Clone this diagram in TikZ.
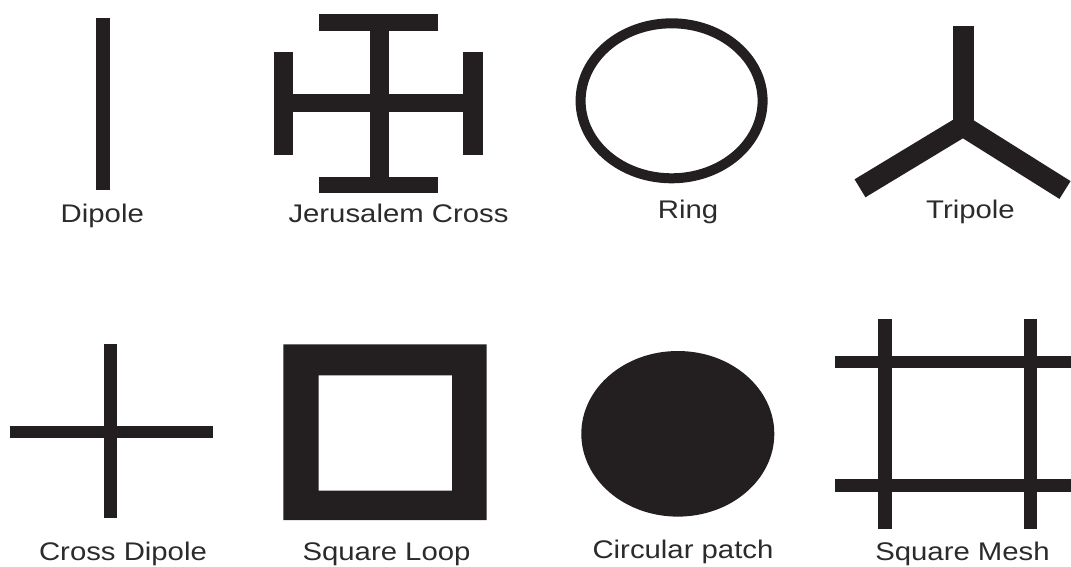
\documentclass[tikz,border=0pt]{standalone}
\usepackage{fontspec}
\setmainfont{Liberation Sans}
\definecolor{ink}{HTML}{231F20}
\definecolor{txt}{HTML}{2B2B2B}
\begin{document}
\begin{tikzpicture}[x=1pt,y=-1pt,
  lbl/.style={anchor=base,inner sep=0pt,text=txt,xscale=1.15,
    font=\fontsize{25.5}{30}\selectfont},
  metal/.style={fill=ink}]
\useasboundingbox (0,0) rectangle (1071,566);
% Dipole
\fill[metal] (96,17.5) rectangle (109.5,190);
\node[lbl] (ldipole) at (102.3,222.7) {Dipole};
% Jerusalem cross
\fill[metal] (318.5,14) rectangle (438,30.7);
\fill[metal] (318.5,176.7) rectangle (438,193.3);
\fill[metal] (370,30) rectangle (389,177.5);
\fill[metal] (273.8,52.3) rectangle (293.4,155);
\fill[metal] (463,52.3) rectangle (482.8,155);
\fill[metal] (293,94.3) rectangle (463.5,111.7);
\node[lbl] (ljc) at (398.5,222.7) {Jerusalem Cross};
% Ring
\draw[ink,line width=10pt] (671.6,100.8) ellipse [x radius=91, y radius=77.5];
\node[lbl] (lring) at (688,218.5) {Ring};
% Tripole
\draw[ink,line width=21pt,line join=miter] (860,188.3) -- (963,126) -- (1065,190);
\fill[metal] (952.5,26) rectangle (974,130);
\node[lbl] (ltri) at (970.5,218.5) {Tripole};
% Cross dipole
\fill[metal] (104,344.3) rectangle (117,518.3);
\fill[metal] (9.6,426) rectangle (212.8,437.7);
\node[lbl] (lcd) at (123,560.5) {Cross Dipole};
% Square loop
\fill[metal,even odd rule] (283.4,344.3) rectangle (486.6,520)
  (318.5,375.3) rectangle (452,490.7);
\node[lbl] (lsl) at (386.5,560) {Square Loop};
% Circular patch
\fill[metal] (677.8,433.8) ellipse [x radius=96.5, y radius=82.8];
\node[lbl] (lcp) at (683,558) {Circular patch};
% Square mesh
\fill[metal] (878.3,319.3) rectangle (891.7,529.3);
\fill[metal] (1024,319.3) rectangle (1036.7,529.3);
\fill[metal] (835,356) rectangle (1071,367.7);
\fill[metal] (835,479.3) rectangle (1071,491.7);
\node[lbl] (lsm) at (962.5,560) {Square Mesh};
\end{tikzpicture}
\end{document}
